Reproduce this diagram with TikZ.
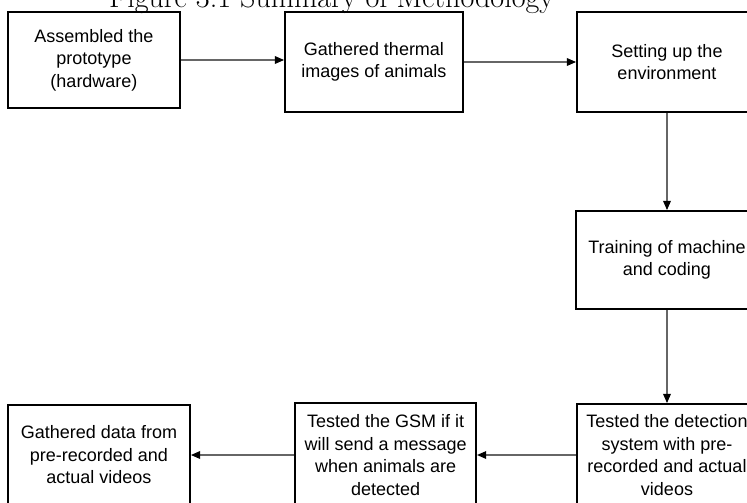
\documentclass[tikz,border=0pt]{standalone}
\usepackage{fontspec}
\newfontfamily\boxfont{Liberation Sans}
\usepackage{tikz}
\usetikzlibrary{arrows.meta, positioning}

\tikzset{
	stepbox/.style={draw, line width=1.4pt, align=center, inner sep=2pt,
		font=\boxfont\fontsize{12.8}{16}\selectfont},
	conn/.style={line width=0.75pt, black!60, -{Triangle[length=6.5pt, width=5.5pt, black]}}
}

\begin{document}
\begin{tikzpicture}
	\useasboundingbox (0,0) rectangle (18.675,-12.55);

	%naslov
	\node[anchor=base, font=\fontsize{21.4}{24}\selectfont] (title) at (8.29, -0.19)
	{Figure 3.1 Summary of Methodology};

	%gornji red
	\node[stepbox, minimum width=4.3cm, minimum height=2.4cm] (assemble) at (2.35, -1.5)
	{Assembled the\\prototype\\(hardware)};
	\node[stepbox, minimum width=4.45cm, minimum height=2.5cm] (gather) at (9.35, -1.55)
	{Gathered thermal\\images of animals};
	\node[stepbox, minimum width=4.5cm, minimum height=2.5cm] (setup) at (16.675, -1.55)
	{Setting up the\\environment};

	%desno
	\node[stepbox, minimum width=4.55cm, minimum height=2.45cm] (train) at (16.675, -6.5)
	{Training of machine\\and coding};

	%donji red
	\node[stepbox, minimum width=4.5cm, minimum height=2.55cm] (detect) at (16.675, -11.375)
	{Tested the detection\\system with pre-\\recorded and actual\\videos};
	\node[stepbox, minimum width=4.525cm, minimum height=2.6cm] (gsm) at (9.64, -11.375)
	{Tested the GSM if it\\will send a message\\when animals are\\detected};
	\node[stepbox, minimum width=4.55cm, minimum height=2.5cm] (data) at (2.475, -11.375)
	{Gathered data from\\pre-recorded and\\actual videos};

	%strelice
	\draw[conn] (assemble.east) -- (assemble.east -| gather.west);
	\draw[conn] (gather.east) -- (setup.west);
	\draw[conn] (setup.south) -- (train.north);
	\draw[conn] (train.south) -- (detect.north);
	\draw[conn] (detect.west) -- (gsm.east);
	\draw[conn] (gsm.west) -- (data.east);

\end{tikzpicture}
\end{document}
